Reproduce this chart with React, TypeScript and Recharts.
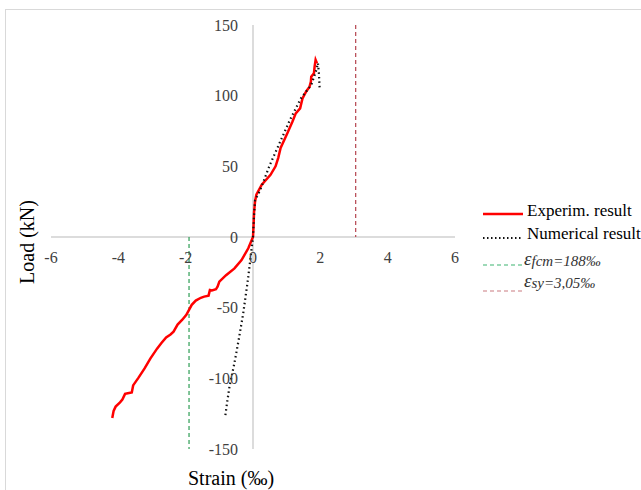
import React from 'react';
import { LineChart, Line, XAxis, YAxis, ReferenceLine, ReferenceDot } from 'recharts';

const expStrain = [-4.18, -4.14, -4.08, -3.95, -3.88, -3.8, -3.72, -3.6, -3.56, -3.4, -3.22, -3.05, -2.85, -2.72, -2.58, -2.45, -2.36, -2.24, -2.1, -1.98, -1.9, -1.82, -1.7, -1.55, -1.45, -1.32, -1.28, -1.22, -1.1, -1.05, -1.0, -0.8, -0.55, -0.34, -0.14, 0, 0.02, 0.03, 0.06, 0.1, 0.26, 0.52, 0.67, 0.75, 0.82, 1.02, 1.17, 1.27, 1.4, 1.47, 1.58, 1.68, 1.72, 1.73, 1.81, 1.83, 1.86, 1.9];
const expLoad = [-128, -123, -120, -117, -115, -111, -110.5, -110, -105, -99.5, -93, -86, -79, -75, -71, -69, -67, -62, -58.5, -55, -51.5, -48, -45, -43, -42.2, -41.5, -37.5, -37.8, -37, -35, -31.6, -27, -22.2, -16.3, -8, 0, 10, 17, 25, 30, 37, 44, 50, 56, 63, 73.4, 81.6, 87.5, 91, 98, 103, 106.4, 110, 113.4, 115.8, 120.5, 125.3, 123];

const numStrain = [-0.82, -0.78, -0.7, -0.55, -0.42, -0.29, -0.15, -0.05, 0, 0.03, 0.06, 0.21, 0.5, 0.8, 1.1, 1.42, 1.73, 1.88, 1.93, 1.96, 1.98];
const numLoad = [-126, -119, -106, -89, -72, -54, -30, -10, 0, 15, 26, 33, 51, 67, 83, 98, 107.6, 118, 123, 115, 105];

const xTicks = [-6, -4, -2, 0, 2, 4, 6];
const yTicks = [150, 100, 50, 0, -50, -100, -150];

const efcm = -1.9;
const esy = 3.05;

const expData = expStrain.map((x, i) => ({ x, y: expLoad[i] }));
const numData = numStrain.map((x, i) => ({ x, y: numLoad[i] }));

const FONT = '"Liberation Serif", "Times New Roman", serif';
const TICK_COLOR = '#404040';

const xTickLabel = (text: string) => (props: any) => {
  const vb = props.viewBox || {};
  const cx = (vb.x || 0) + (vb.width || 0) / 2;
  const cy = (vb.y || 0) + (vb.height || 0) / 2;
  return (
    <text x={cx} y={cy + 26} textAnchor="middle" fontFamily={FONT} fontSize={16} fill={TICK_COLOR}>{text}</text>
  );
};

const yTickLabel = (text: string) => (props: any) => {
  const vb = props.viewBox || {};
  const cx = (vb.x || 0) + (vb.width || 0) / 2;
  const cy = (vb.y || 0) + (vb.height || 0) / 2;
  return (
    <text x={cx - 15} y={cy + 5.5} textAnchor="end" fontFamily={FONT} fontSize={16} fill={TICK_COLOR}>{text}</text>
  );
};

export default function App() {
  return (
    <div style={{ position: 'absolute', left: 0, top: 0, width: 641, height: 490, background: '#fff', overflow: 'hidden' }}>
      <div style={{ position: 'absolute', left: 5, top: 9, width: 640, height: 490, borderTop: '1.5px solid #d9d9d9', borderLeft: '1.5px solid #d9d9d9' }} />
      <div style={{ position: 'absolute', left: 0, top: 0 }}>
        <LineChart width={641} height={490} margin={{ top: 25, right: 186, bottom: 41, left: 51 }}>
          <XAxis type="number" dataKey="x" domain={[-6, 6]} hide allowDataOverflow />
          <YAxis type="number" dataKey="y" domain={[-150, 150]} hide allowDataOverflow />
          <ReferenceLine y={0} stroke="#d0d0d0" strokeWidth={1.5} ifOverflow="visible" />
          <ReferenceLine x={0} stroke="#d0d0d0" strokeWidth={1.5} ifOverflow="visible" />
          <ReferenceLine segment={[{ x: efcm, y: 0 }, { x: efcm, y: -150 }]} stroke="#2e9e55" strokeDasharray="4 3" strokeWidth={1.2} ifOverflow="visible" />
          <ReferenceLine segment={[{ x: esy, y: 150 }, { x: esy, y: 0 }]} stroke="#b5444f" strokeDasharray="4 3" strokeWidth={1.2} ifOverflow="visible" />
          {xTicks.map((t) => (
            <ReferenceDot key={'x' + t} x={t} y={0} r={0} stroke="none" fill="none" ifOverflow="visible"
              label={xTickLabel(String(t))} />
          ))}
          {yTicks.map((t) => (
            <ReferenceDot key={'y' + t} x={0} y={t} r={0} stroke="none" fill="none" ifOverflow="visible"
              label={yTickLabel(String(t))} />
          ))}
          <Line data={expData} dataKey="y" type="linear" stroke="#ff0000" strokeWidth={2.5} dot={false} isAnimationActive={false} />
          <Line data={numData} dataKey="y" type="linear" stroke="#111111" strokeWidth={2.2} strokeDasharray="1.5 3" dot={false} isAnimationActive={false} />
        </LineChart>
      </div>
      <svg width={641} height={490} style={{ position: 'absolute', left: 0, top: 0, pointerEvents: 'none' }}>
        <text x={0} y={0} transform="translate(34,242) rotate(-90)" textAnchor="middle" fontFamily={FONT} fontSize={20} fill="#000">Load (kN)</text>
        <text x={231} y={485} textAnchor="middle" fontFamily={FONT} fontSize={20} fill="#000">Strain (‰)</text>
        <line x1={483} y1={214} x2={523} y2={214} stroke="#ff0000" strokeWidth={2.5} />
        <text x={527} y={216} fontFamily={FONT} fontSize={17} fill="#000">Experim. result</text>
        <line x1={483} y1={238} x2={523} y2={238} stroke="#111" strokeWidth={2} strokeDasharray="1.5 2.5" />
        <text x={527} y={239} fontFamily={FONT} fontSize={17} fill="#000">Numerical result</text>
        <line x1={483} y1={265} x2={523} y2={265} stroke="#3cb371" strokeWidth={1.2} strokeDasharray="4 3" />
        <text x={524} y={265} fontFamily={FONT} fontStyle="italic" fill="#333">
          <tspan fontSize={19}>ε</tspan>
          <tspan fontSize={15} dy={1}>fcm=188‰</tspan>
        </text>
        <line x1={483} y1={291} x2={523} y2={291} stroke="#c97a80" strokeWidth={1.2} strokeDasharray="4 3" />
        <text x={524} y={287} fontFamily={FONT} fontStyle="italic" fill="#333">
          <tspan fontSize={19}>ε</tspan>
          <tspan fontSize={15} dy={1}>sy=3,05‰</tspan>
        </text>
      </svg>
    </div>
  );
}
